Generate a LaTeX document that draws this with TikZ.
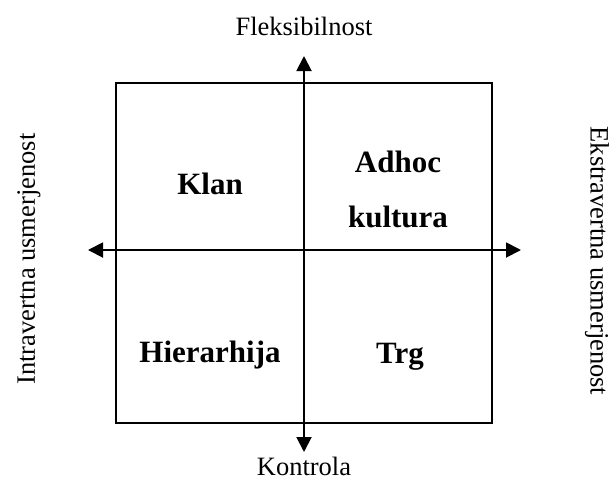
\documentclass[tikz,border=0pt]{standalone}
\usepackage{fontspec}
\setmainfont{Liberation Serif}
\usetikzlibrary{arrows.meta}
\begin{document}
\begin{tikzpicture}[x=1pt,y=-1pt,
  axis/.style={line width=1.9pt,{Triangle[width=15pt,length=15pt]}-{Triangle[width=15pt,length=15pt]}},
  frame/.style={line width=1.9pt},
  axlabel/.style={inner sep=0pt,font=\fontsize{26.5}{30}\selectfont},
  quad/.style={inner sep=0pt,anchor=base,font=\fontsize{31}{36}\selectfont\bfseries}]
\useasboundingbox (0,0) rectangle (612,480);
\coordinate (sqa) at (116,83);
\coordinate (sqb) at (492,423);
\draw[frame] (sqa) rectangle (sqb);
\coordinate (top) at (304,56);
\coordinate (bot) at (304,452);
\coordinate (lft) at (88,250);
\coordinate (rgt) at (521,250);
\draw[axis] (bot) -- (top);
\draw[axis] (lft) -- (rgt);
\node[axlabel] (flex) at (304,26) {Fleksibilnost};
\node[axlabel] (ctrl) at (304,466) {Kontrola};
\node[axlabel,rotate=90] (intra) at (29,259) {Intravertna usmerjenost};
\node[axlabel,rotate=-90] (extra) at (597,261) {Ekstravertna usmerjenost};
\node[quad] (klan) at (210,194) {Klan};
\node[quad] (adhoc) at (398,172) {Adhoc};
\node[quad] (kult) at (398,227) {kultura};
\node[quad] (hier) at (210,362) {Hierarhija};
\node[quad] (trg) at (400,363) {Trg};
\end{tikzpicture}
\end{document}
